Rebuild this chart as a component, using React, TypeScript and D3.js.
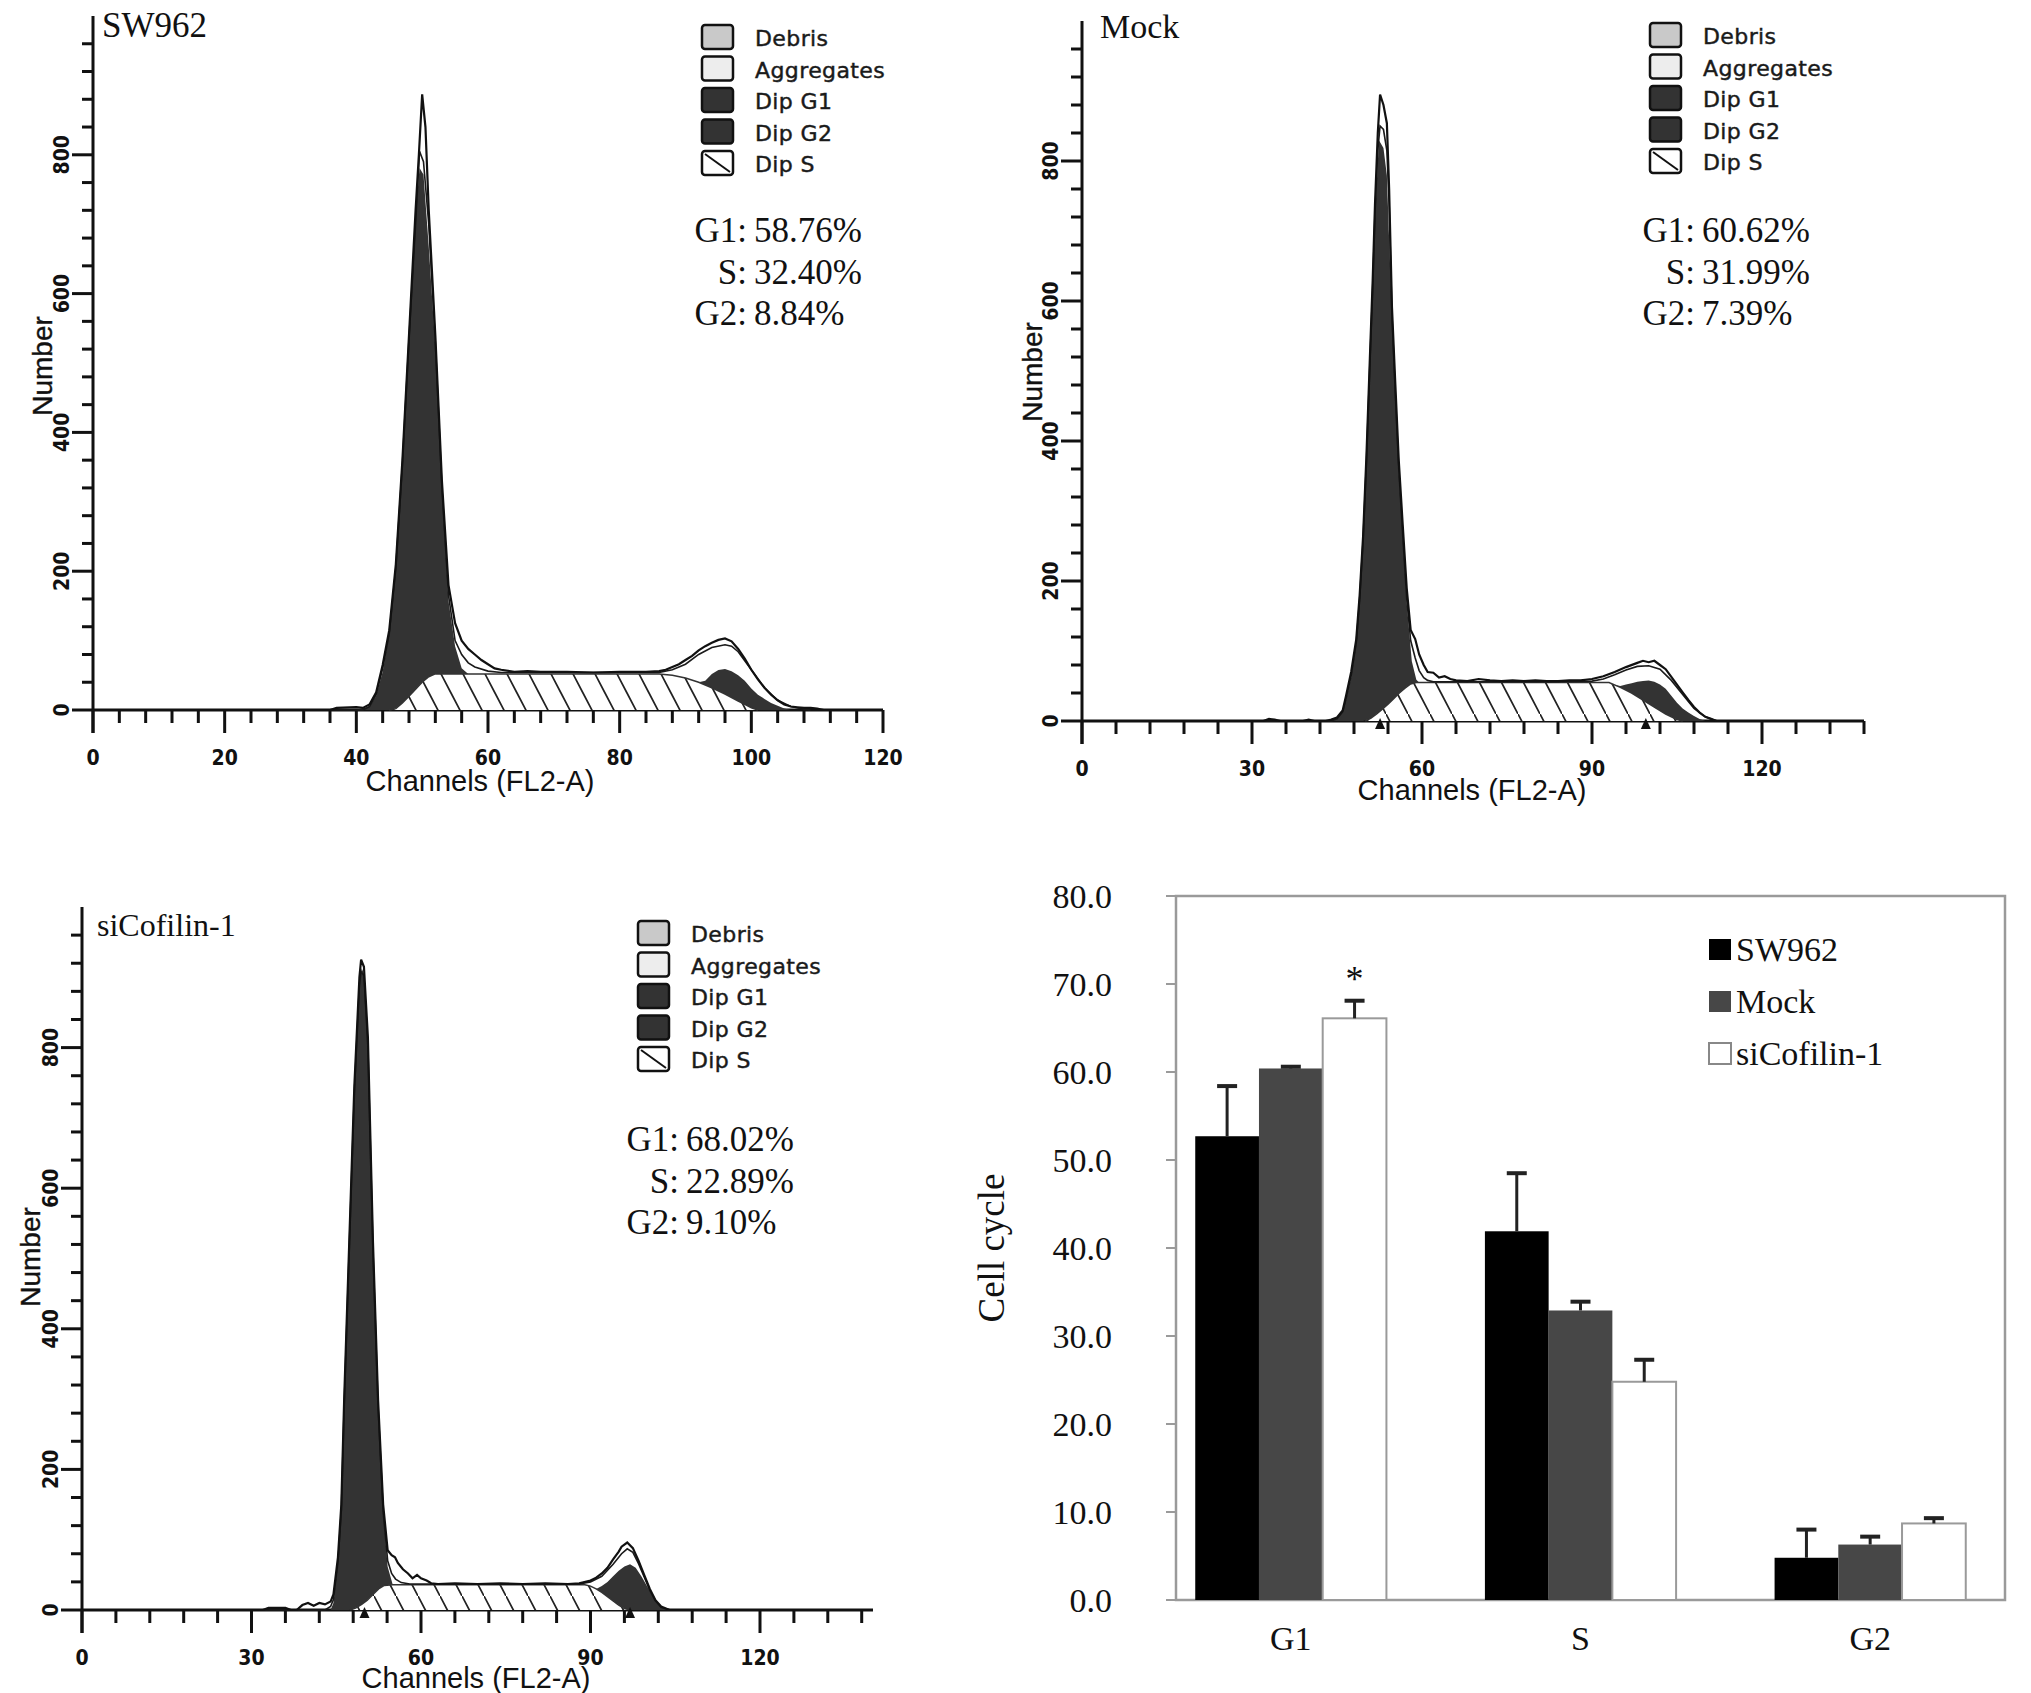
import React from 'react';
import * as d3 from 'd3';

type Pt = [number, number];

// ---- flow cytometry histograms: [channel, count] ----
const sw962Total: Pt[] = [[0,0],[36,0],[37,3],[40,4],[41,3],[42,8],[43,25],[44,65],[45,115],[46,210],[47,360],[48,540],[49,720],[49.5,800],[50,887],[50.5,840],[51,720],[52,540],[53,330],[54,180],[55,125],[56,100],[57,88],[58,80],[59,72],[60,66],[61,60],[62,58],[64,55],[66,56],[68,55],[72,55],[76,54],[80,55],[84,55],[86,56],[87,58],[88,62],[89,66],[90,72],[91,78],[92,86],[93,92],[94,97],[95,101],[96,103],[97,99],[98,88],[99,74],[100,58],[101,44],[102,32],[103,22],[104,14],[105,8],[106,5],[107,4],[108,3],[109,3],[110,2],[111,0],[120,0]];
const sw962Fit: Pt[] = [[0,0],[41,0],[42,5],[43,22],[44,60],[45,110],[46,205],[47,355],[48,535],[49,700],[49.6,805],[50.2,790],[51,700],[52,530],[53,320],[54,165],[55,100],[56,80],[57,68],[58,62],[60,56],[62,54],[70,54],[80,54],[86,54],[88,58],[90,66],[92,80],[94,90],[96,94],[97,92],[98,84],[100,58],[102,32],[104,14],[106,5],[108,1],[109,0]];
const sw962S: Pt[] = [[45,0],[46,2],[47,10],[48,20],[49,30],[50,40],[51,48],[52,52],[86,52],[88,50],[90,46],[92,40],[94,32],[96,23],[98,13],[99,8],[100,3],[101,0]];
const sw962G1: Pt[] = [[40,0],[41,2],[42,5],[43,20],[44,55],[45,110],[46,200],[47,340],[48,510],[49,680],[49.6,745],[50.2,730],[51,620],[52,470],[53,265],[54,105],[55,40],[56,8],[57,0]];
const sw962G2: Pt[] = [[92,0],[93,6],[94,20],[95,30],[96,36],[97,38],[98,37],[99,34],[100,28],[101,22],[102,16],[103,10],[104,6],[105,2],[106,0]];

const mockTotal: Pt[] = [[0,0],[32,0],[33,3],[34,2],[35,0],[39,0],[40,2],[41,0],[43,0],[44,2],[45,5],[46,15],[46.6,36],[47.5,70],[48.4,117],[49,180],[49.6,263],[50.2,380],[50.8,518],[51.3,630],[51.7,737],[52.2,840],[52.6,895],[53.2,880],[53.8,854],[54.2,760],[54.7,591],[55.3,480],[55.9,372],[56.6,280],[57.3,190],[58,130],[58.8,117],[59.5,95],[60.3,80],[61,70],[62,69],[63,62],[64,64],[65,60],[66,58],[68,57],[70,60],[72,58],[74,57],[76,58],[78,57],[80,58],[82,57],[84,57],[86,58],[88,58],[90,60],[92,64],[94,70],[96,77],[98,83],[99,86],[100,84],[101,86],[102,80],[103,74],[104,63],[105,52],[106,41],[107,30],[108,20],[109,12],[110,6],[111,3],[112,0],[138,0]];
const mockFit: Pt[] = [[0,0],[44,0],[45,3],[46,13],[46.6,32],[47.5,65],[48.4,112],[49,175],[49.6,258],[50.2,372],[50.8,510],[51.3,620],[51.7,725],[52.2,815],[52.6,850],[53.2,845],[53.8,815],[54.2,740],[54.7,580],[55.3,465],[55.9,360],[56.6,265],[57.3,175],[58,115],[58.8,90],[59.5,72],[60.3,62],[61,58],[62,56],[70,56],[80,56],[90,57],[92,60],[94,66],[96,73],[98,78],[100,79],[102,74],[104,58],[106,38],[108,18],[110,6],[112,0]];
const mockS: Pt[] = [[50,0],[51,4],[52,10],[53,17],[54,24],[55,32],[56,40],[57,47],[58,53],[59,55],[93,55],[95,48],[97,40],[99,30],[101,20],[103,10],[105,2],[106,0]];
const mockG1: Pt[] = [[44,0],[45,3],[46,15],[46.6,30],[47.5,62],[48.4,110],[49.6,255],[50.8,505],[51.7,708],[52.4,817],[53.2,800],[53.8,757],[54.7,545],[55.9,315],[57.3,120],[58.2,32],[59,4],[59.5,0]];
const mockG2: Pt[] = [[94,0],[95,2],[96,8],[97,14],[98,21],[99,27],[100,33],[101,36],[102,37],[103,36],[104,30],[105,24],[106,18],[107,12],[108,7],[109,3],[110,0]];

const siTotal: Pt[] = [[0,0],[32,0],[33,3],[36,3],[37,0],[38,0],[39,7],[40,10],[41,6],[42,10],[43,8],[44,12],[44.5,22],[45.3,75],[45.9,150],[46.4,299],[47.3,523],[48.2,745],[49.1,900],[49.4,925],[49.9,915],[50.6,815],[51.5,523],[52.4,299],[53.3,150],[54.1,85],[54.8,78],[55.4,75],[55.9,67],[56.8,58],[57.7,52],[58.5,45],[59.3,50],[60,45],[61,42],[61.8,38],[63,37],[66,38],[70,37],[74,38],[78,37],[82,38],[86,37],[88,38],[90,42],[91,46],[92,52],[93,60],[94,72],[95,83],[95.5,90],[96.5,96],[97.5,88],[98.5,70],[99.5,50],[100.5,30],[101.5,14],[102.5,5],[104,0],[140,0]];
const siFit: Pt[] = [[0,0],[43,0],[44,5],[44.5,15],[45.3,68],[45.9,142],[46.4,290],[47.3,515],[48.2,735],[49.1,890],[49.4,908],[49.9,902],[50.6,803],[51.5,512],[52.4,290],[53.3,140],[54.1,70],[54.8,52],[55.5,44],[56.5,39],[58,37],[70,37],[88,37],[90,40],[92,48],[94,65],[95.5,80],[96.5,87],[97.5,82],[98.5,66],[99.5,47],[100.5,28],[101.5,13],[102.5,4],[104,0]];
const siS: Pt[] = [[47.5,0],[48.5,3],[49.5,8],[50.5,14],[51.5,22],[52.5,30],[53.5,35],[55,36],[89,36],[90,34],[91,30],[92,25],[93,19],[94,13],[95,7],[96,2],[97,0]];
const siG1: Pt[] = [[44,0],[44.5,10],[45.3,68],[45.9,140],[46.4,290],[47.3,510],[48.2,730],[49.1,885],[49.5,905],[49.9,895],[50.6,788],[51.5,488],[52.4,255],[53.3,107],[54.1,26],[55,0]];
const siG2: Pt[] = [[91,0],[92,9],[93,21],[94,35],[95,49],[96,60],[97,65],[98,60],[99,48],[100,34],[101,20],[102,9],[103,2],[104,0]];

const statLabels = ['G1:', 'S:', 'G2:'];
const sw962Stats = ['58.76%', '32.40%', '8.84%'];
const mockStats = ['60.62%', '31.99%', '7.39%'];
const siStats = ['68.02%', '22.89%', '9.10%'];

const legendItems = ['Debris', 'Aggregates', 'Dip G1', 'Dip G2', 'Dip S'];
const legendFills = ['#c9c9c9', '#ededed', '#333', '#333', 'hatch'];

const mockMarkers = [52.6, 99.5];
const siMarkers = [50, 97];

// ---- bar chart ----
const phases = ['G1', 'S', 'G2'];
const groups = ['SW962', 'Mock', 'siCofilin-1'];
const sw962Means = [52.7, 41.9, 4.8];
const sw962Err = [5.7, 6.6, 3.2];
const mockMeans = [60.4, 32.9, 6.3];
const mockErr = [0.2, 1.0, 0.9];
const siMeans = [66.1, 24.8, 8.7];
const siErr = [2.0, 2.5, 0.6];
const yTicks = [0, 10, 20, 30, 40, 50, 60, 70, 80];

const serif = "'Liberation Serif', 'Times New Roman', serif";
const sans = "'Liberation Sans', Arial, sans-serif";
const pix = "'DejaVu Sans Condensed', 'DejaVu Sans', sans-serif";
const pixWide = "'DejaVu Sans', sans-serif";

interface PanelCfg {
  title: string; titleSize: number;
  titleX: number; titleY: number;
  x0: number; x120: number; axisEnd: number; minor: number; major: number;
  base: number; top: number;
  legendX: number; legendY: number;
  statsX: number; statsY: number;
  numberX: number; numberY: number;
  chanX: number; chanY: number;
  total: Pt[]; fit: Pt[]; s: Pt[]; g1: Pt[]; g2: Pt[];
  stats: string[]; markers: number[];
}

const panels: PanelCfg[] = [
  { title: 'SW962', titleSize: 35, titleX: 102, titleY: 37, x0: 93, x120: 883, axisEnd: 120, minor: 4, major: 20,
    base: 710, top: 16, legendX: 702, legendY: 25, statsX: 747, statsY: 242,
    numberX: 52, numberY: 366, chanX: 480, chanY: 791,
    total: sw962Total, fit: sw962Fit, s: sw962S, g1: sw962G1, g2: sw962G2, stats: sw962Stats, markers: [] },
  { title: 'Mock', titleSize: 34, titleX: 1100, titleY: 38, x0: 1082, x120: 1762, axisEnd: 138, minor: 6, major: 30,
    base: 721, top: 21, legendX: 1650, legendY: 23, statsX: 1695, statsY: 242,
    numberX: 1042, numberY: 372, chanX: 1472, chanY: 800,
    total: mockTotal, fit: mockFit, s: mockS, g1: mockG1, g2: mockG2, stats: mockStats, markers: mockMarkers },
  { title: 'siCofilin-1', titleSize: 32, titleX: 97, titleY: 936, x0: 82, x120: 760, axisEnd: 140, minor: 6, major: 30,
    base: 1610, top: 907, legendX: 638, legendY: 921, statsX: 679, statsY: 1151,
    numberX: 40, numberY: 1257, chanX: 476, chanY: 1688,
    total: siTotal, fit: siFit, s: siS, g1: siG1, g2: siG2, stats: siStats, markers: siMarkers },
];

const Histogram: React.FC<{ p: PanelCfg }> = ({ p }) => {
  const xs = d3.scaleLinear().domain([0, 120]).range([p.x0, p.x120]);
  const ys = d3.scaleLinear().domain([0, 1000]).range([p.base, p.top]);
  const sAt = d3.scaleLinear()
    .domain(p.s.map(d => d[0]))
    .range(p.s.map(d => d[1]))
    .clamp(true);

  const stacked = d3.area<Pt>()
    .x(d => xs(d[0]))
    .y0(d => ys(sAt(d[0])))
    .y1(d => ys(sAt(d[0]) + d[1]));
  const sArea = d3.area<Pt>().x(d => xs(d[0])).y0(ys(0)).y1(d => ys(d[1]));
  const line = d3.line<Pt>().x(d => xs(d[0])).y(d => ys(d[1]));

  const lastTick = Math.floor(p.axisEnd / p.minor) * p.minor;
  const xTicks = d3.range(0, lastTick + 0.01, p.minor);
  const yTickVals = d3.range(0, 961, 40);
  const xLabels = d3.range(0, 121, p.major);
  const yLabels = [0, 200, 400, 600, 800];

  return (
    <g>
      {/* axes */}
      <line x1={p.x0} x2={xs(p.axisEnd)} y1={p.base} y2={p.base} stroke="#111" strokeWidth={3} />
      <line x1={p.x0} x2={p.x0} y1={ys(1000)} y2={p.base + 23} stroke="#111" strokeWidth={3} />
      {xTicks.map(t => (
        <line key={`xt${t}`} x1={xs(t)} x2={xs(t)} y1={p.base}
          y2={p.base + (Math.abs(t % p.major) < 0.01 ? 23 : 13)} stroke="#111" strokeWidth={3} />
      ))}
      {yTickVals.map(t => (
        <line key={`yt${t}`} y1={ys(t)} y2={ys(t)} x2={p.x0}
          x1={p.x0 - (t % 200 === 0 ? 21 : 11)} stroke="#111" strokeWidth={3} />
      ))}
      {xLabels.map(t => (
        <text key={`xl${t}`} x={xs(t)} y={p.base + 55} textAnchor="middle"
          fontFamily={pix} fontWeight="bold" fontSize={21} fill="#111">{t}</text>
      ))}
      {yLabels.map(t => (
        <text key={`yl${t}`} transform={`translate(${p.x0 - 24},${ys(t)}) rotate(-90)`} textAnchor="middle"
          fontFamily={pix} fontWeight="bold" fontSize={21} fill="#111">{t}</text>
      ))}

      {/* model components */}
      <path d={stacked(p.g1) || ''} fill="#333" />
      <path d={stacked(p.g2) || ''} fill="#333" />
      <path d={sArea(p.s) || ''} fill="url(#hatch)" />
      <path d={line(p.s) || ''} fill="none" stroke="#333" strokeWidth={1.5} />
      <path d={line(p.fit) || ''} fill="none" stroke="#1a1a1a" strokeWidth={1.6} />
      <path d={line(p.total) || ''} fill="none" stroke="#111" strokeWidth={2.2} />

      {p.markers.map(m => (
        <path key={`m${m}`} d={`M${xs(m) - 5},${p.base + 8} L${xs(m) + 5},${p.base + 8} L${xs(m)},${p.base - 3} Z`} fill="#111" />
      ))}

      {/* labels */}
      <text x={p.titleX} y={p.titleY} fontFamily={serif} fontSize={p.titleSize} fill="#111">{p.title}</text>
      <text transform={`translate(${p.numberX},${p.numberY}) rotate(-90)`} textAnchor="middle"
        fontFamily={sans} fontSize={28} fill="#111" stroke="#111" strokeWidth={0.4}>Number</text>
      <text x={p.chanX} y={p.chanY} textAnchor="middle" fontFamily={sans} fontSize={29} fill="#111">Channels (FL2-A)</text>

      {/* legend */}
      {legendItems.map((name, i) => {
        const y = p.legendY + i * 31.5;
        return (
          <g key={name}>
            <rect x={p.legendX} y={y} width={31} height={24} rx={3}
              fill={legendFills[i] === 'hatch' ? '#fff' : legendFills[i]} stroke="#111" strokeWidth={2.5} />
            {legendFills[i] === 'hatch' && (
              <line x1={p.legendX + 3} y1={y + 3} x2={p.legendX + 28} y2={y + 21} stroke="#111" strokeWidth={2} />
            )}
            <text x={p.legendX + 53} y={y + 21} fontFamily={pixWide} fontSize={22} letterSpacing={0.4}
              fill="#1a1a1a" stroke="#1a1a1a" strokeWidth={0.45}>{name}</text>
          </g>
        );
      })}

      {/* percentages */}
      {statLabels.map((lab, i) => (
        <g key={lab}>
          <text x={p.statsX} y={p.statsY + i * 41.5} textAnchor="end" fontFamily={serif} fontSize={35} fill="#111">{lab}</text>
          <text x={p.statsX + 7} y={p.statsY + i * 41.5} fontFamily={serif} fontSize={35} fill="#111">{p.stats[i]}</text>
        </g>
      ))}
    </g>
  );
};

const BarChart: React.FC = () => {
  const frameL = 1176, frameR = 2005, top = 896, bottom = 1600;
  const x = d3.scaleBand<string>().domain(phases).range([1146, 2015]).paddingInner(0.34).paddingOuter(0.17);
  const xi = d3.scaleBand<string>().domain(groups).range([0, x.bandwidth()]);
  const y = d3.scaleLinear().domain([0, 80]).range([bottom, top]);
  const means = [sw962Means, mockMeans, siMeans];
  const errs = [sw962Err, mockErr, siErr];
  const fills = ['#000', '#474747', '#fff'];
  const strokes = ['none', 'none', '#9a9a9a'];

  return (
    <g>
      <rect x={frameL} y={top} width={frameR - frameL} height={bottom - top} fill="#fff" stroke="#9a9a9a" strokeWidth={2.5} />
      {yTicks.map(t => (
        <g key={t}>
          <line x1={frameL - 10} x2={frameL} y1={y(t)} y2={y(t)} stroke="#9a9a9a" strokeWidth={2} />
          <text x={1112} y={y(t)} dy="0.35em" textAnchor="end" fontFamily={serif} fontSize={34} fill="#111">{t.toFixed(1)}</text>
        </g>
      ))}
      {phases.map((ph, pi) => (
        <g key={ph}>
          {groups.map((g, gi) => {
            const bx = (x(ph) || 0) + (xi(g) || 0);
            const bw = xi.bandwidth();
            const v = means[gi][pi];
            const e = errs[gi][pi];
            const cx = bx + bw / 2;
            return (
              <g key={g}>
                <rect x={bx} y={y(v)} width={bw} height={y(0) - y(v)} fill={fills[gi]}
                  stroke={strokes[gi]} strokeWidth={2} />
                <line x1={cx} x2={cx} y1={y(v)} y2={y(v + e)} stroke="#222" strokeWidth={3} />
                <line x1={cx - 10} x2={cx + 10} y1={y(v + e)} y2={y(v + e)} stroke="#222" strokeWidth={4} />
              </g>
            );
          })}
          <text x={(x(ph) || 0) + x.bandwidth() / 2} y={1650} textAnchor="middle" fontFamily={serif} fontSize={34} fill="#111">{ph}</text>
        </g>
      ))}
      <text x={(x('G1') || 0) + (xi('siCofilin-1') || 0) + xi.bandwidth() / 2} y={991} textAnchor="middle"
        fontFamily={serif} fontSize={36} fill="#111">*</text>
      <text transform={`translate(1004,${(top + bottom) / 2}) rotate(-90)`} textAnchor="middle"
        fontFamily={serif} fontSize={37} fill="#111">Cell cycle</text>
      {groups.map((g, gi) => (
        <g key={g}>
          <rect x={1709} y={939 + gi * 52} width={22} height={21} fill={fills[gi]}
            stroke={gi === 2 ? '#888' : 'none'} strokeWidth={2} />
          <text x={1736} y={961 + gi * 52} fontFamily={serif} fontSize={34} fill="#111">{g}</text>
        </g>
      ))}
    </g>
  );
};

export default function App() {
  return (
    <svg width={2031} height={1693} viewBox="0 0 2031 1693"
      style={{ position: 'absolute', left: 0, top: 0, background: '#fff' }}>
      <defs>
        <pattern id="hatch" patternUnits="userSpaceOnUse" width={22} height={42}>
          <rect width={22} height={42} fill="#fff" />
          <path d="M0,0 L22,42 M-11,-21 L11,21 M11,21 L33,63" stroke="#222" strokeWidth={1.7} />
        </pattern>
      </defs>
      <rect width={2031} height={1693} fill="#fff" />
      {panels.map(p => <Histogram key={p.title} p={p} />)}
      <BarChart />
    </svg>
  );
}
